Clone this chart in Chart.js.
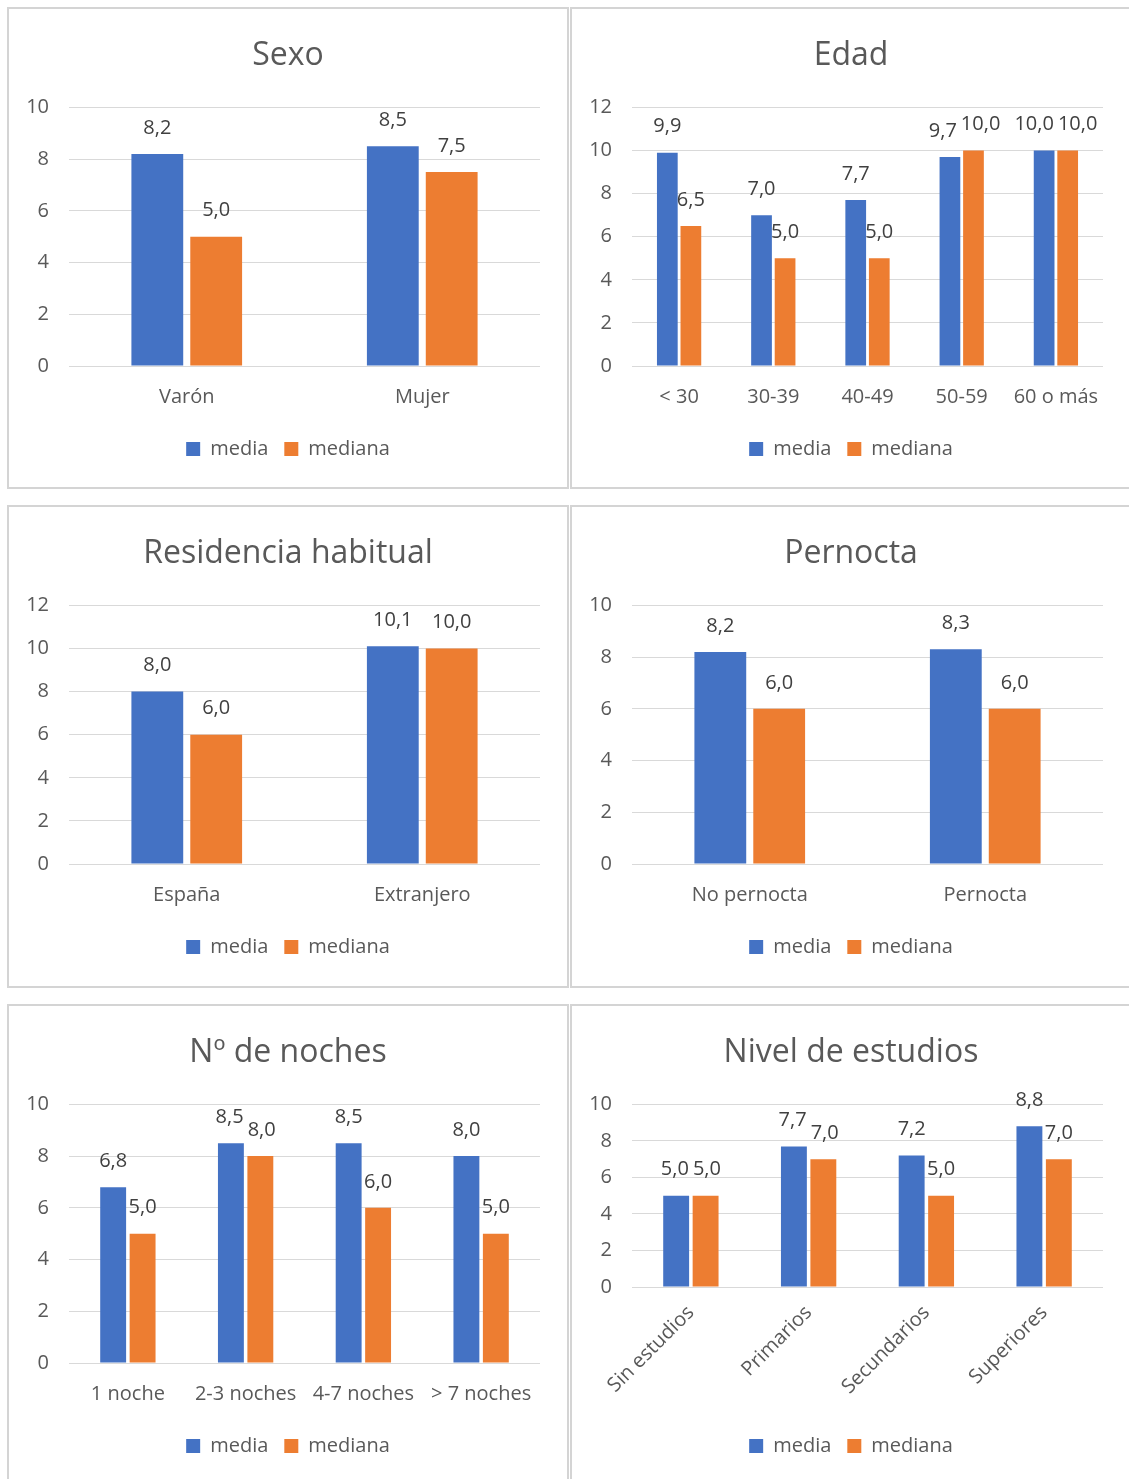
<!DOCTYPE html>
<html>
<head>
<meta charset="utf-8">
<script src="https://cdn.jsdelivr.net/npm/chart.js@4/dist/chart.umd.min.js"></script>
<style>
  body { margin: 0; background: #fff; width: 1129px; height: 1479px; overflow: hidden; position: relative; }
  .panel { position: absolute; border: 2px solid #d4d4d4; background: #fff; box-sizing: border-box; }
  .panel canvas { position: absolute; left: 0; top: 0; }
</style>
</head>
<body>
<div class="panel" style="left:7px;top:7px;width:562px;height:482px"><canvas id="sexo" width="558" height="478"></canvas></div>
<div class="panel" style="left:570px;top:7px;width:562px;height:482px"><canvas id="edad" width="558" height="478"></canvas></div>
<div class="panel" style="left:7px;top:505px;width:562px;height:483px"><canvas id="residencia" width="558" height="478"></canvas></div>
<div class="panel" style="left:570px;top:505px;width:562px;height:483px"><canvas id="pernocta" width="558" height="478"></canvas></div>
<div class="panel" style="left:7px;top:1004px;width:562px;height:490px"><canvas id="noches" width="558" height="478"></canvas></div>
<div class="panel" style="left:570px;top:1004px;width:562px;height:490px"><canvas id="estudios" width="558" height="478"></canvas></div>
<script>
// values
const sexoLabels = ['Varón', 'Mujer'];
const sexoMedia = [8.2, 8.5];
const sexoMediana = [5.0, 7.5];

const edadLabels = ['< 30', '30-39', '40-49', '50-59', '60 o más'];
const edadMedia = [9.9, 7.0, 7.7, 9.7, 10.0];
const edadMediana = [6.5, 5.0, 5.0, 10.0, 10.0];

const residenciaLabels = ['España', 'Extranjero'];
const residenciaMedia = [8.0, 10.1];
const residenciaMediana = [6.0, 10.0];

const pernoctaLabels = ['No pernocta', 'Pernocta'];
const pernoctaMedia = [8.2, 8.3];
const pernoctaMediana = [6.0, 6.0];

const nochesLabels = ['1 noche', '2-3 noches', '4-7 noches', '> 7 noches'];
const nochesMedia = [6.8, 8.5, 8.5, 8.0];
const nochesMediana = [5.0, 8.0, 6.0, 5.0];

const estudiosLabels = ['Sin estudios', 'Primarios', 'Secundarios', 'Superiores'];
const estudiosMedia = [5.0, 7.7, 7.2, 8.8];
const estudiosMediana = [5.0, 7.0, 5.0, 7.0];

const FONT = '"Open Sans", "Liberation Sans", sans-serif';
const fmt = v => v.toFixed(1).replace('.', ',');

// labels above bars, pushed apart sideways when the pair collides
const valueLabels = {
    id: 'valueLabels',
    afterDatasetsDraw(chart) {
        const ctx = chart.ctx;
        ctx.save();
        ctx.font = '20px ' + FONT;
        ctx.fillStyle = '#404040';
        ctx.textAlign = 'center';
        ctx.textBaseline = 'middle';
        chart.data.labels.forEach((_, i) => {
            const items = chart.data.datasets.map((ds, d) => {
                const bar = chart.getDatasetMeta(d).data[i];
                const text = fmt(ds.data[i]);
                return { text, x: bar.x, y: bar.y - 26, w: ctx.measureText(text).width };
            });
            const a = items[0], b = items[1];
            const overlap = (a.w + b.w) / 2 + 4 - (b.x - a.x);
            if (overlap > 0 && Math.abs(a.y - b.y) < 20) {
                a.x -= overlap / 2;
                b.x += overlap / 2;
            }
            items.forEach(it => ctx.fillText(it.text, it.x, it.y));
        });
        ctx.restore();
    }
};

function makeChart(id, title, labels, media, mediana, yMax, rotated) {
    const canvas = document.getElementById(id);
    return new Chart(canvas, {
        type: 'bar',
        data: {
            labels,
            datasets: [
                { label: 'media', data: media, backgroundColor: '#4472C4' },
                { label: 'mediana', data: mediana, backgroundColor: '#ED7D31' }
            ]
        },
        options: {
            responsive: false,
            animation: false,
            categoryPercentage: 0.5,
            barPercentage: 0.88,
            layout: { padding: { left: 0, right: 0, top: 0, bottom: 18 } },
            plugins: {
                title: {
                    display: true,
                    text: title,
                    color: '#595959',
                    font: { family: FONT, size: 32, weight: 'normal' },
                    padding: { top: 28, bottom: 32 }
                },
                legend: {
                    position: 'bottom',
                    labels: {
                        color: '#595959',
                        font: { family: FONT, size: 20 },
                        boxWidth: 14,
                        boxHeight: 14,
                        padding: 16
                    }
                },
                tooltip: { enabled: false }
            },
            scales: {
                x: {
                    grid: { display: false },
                    border: { display: false },
                    ticks: {
                        color: '#595959',
                        font: { family: FONT, size: 20 },
                        padding: rotated ? 6 : 11,
                        minRotation: rotated ? 45 : 0,
                        maxRotation: rotated ? 45 : 0,
                        autoSkip: false
                    },
                    afterFit: s => { s.height = rotated ? 133 : 57; }
                },
                y: {
                    min: 0,
                    max: yMax,
                    grid: { color: '#d9d9d9', drawTicks: false },
                    border: { display: false },
                    ticks: {
                        stepSize: 2,
                        color: '#595959',
                        font: { family: FONT, size: 20 },
                        padding: 20
                    },
                    afterFit: s => { s.width = 60; }
                },
                // empty margin on the right so title and legend stay centred on the panel
                yRight: {
                    position: 'right',
                    grid: { display: false },
                    border: { display: false },
                    ticks: { display: false },
                    afterFit: s => { s.width = 27; }
                }
            }
        },
        plugins: [valueLabels]
    });
}

makeChart('sexo', 'Sexo', sexoLabels, sexoMedia, sexoMediana, 10);
makeChart('edad', 'Edad', edadLabels, edadMedia, edadMediana, 12);
makeChart('residencia', 'Residencia habitual', residenciaLabels, residenciaMedia, residenciaMediana, 12);
makeChart('pernocta', 'Pernocta', pernoctaLabels, pernoctaMedia, pernoctaMediana, 10);
makeChart('noches', 'Nº de noches', nochesLabels, nochesMedia, nochesMediana, 10);
makeChart('estudios', 'Nivel de estudios', estudiosLabels, estudiosMedia, estudiosMediana, 10, true);
</script>
</body>
</html>
